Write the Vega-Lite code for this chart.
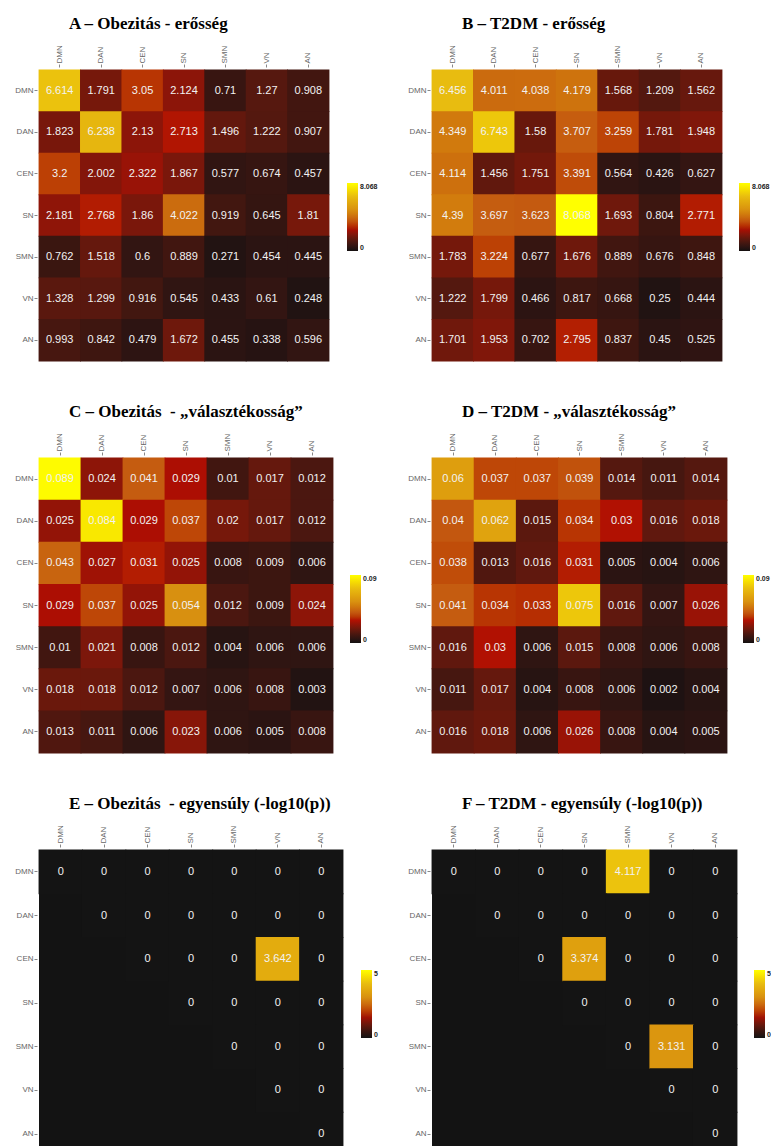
{
"$schema": "https://vega.github.io/schema/vega-lite/v6.json",
"background": "white",
"padding": {"left": 14, "top": 14, "right": 0, "bottom": 0},
"datasets": {
"A": [
{"r":"DMN","c":"DMN","v":6.614},{"r":"DMN","c":"DAN","v":1.791},{"r":"DMN","c":"CEN","v":3.05},{"r":"DMN","c":"SN","v":2.124},{"r":"DMN","c":"SMN","v":0.71},{"r":"DMN","c":"VN","v":1.27},{"r":"DMN","c":"AN","v":0.908},
{"r":"DAN","c":"DMN","v":1.823},{"r":"DAN","c":"DAN","v":6.238},{"r":"DAN","c":"CEN","v":2.13},{"r":"DAN","c":"SN","v":2.713},{"r":"DAN","c":"SMN","v":1.496},{"r":"DAN","c":"VN","v":1.222},{"r":"DAN","c":"AN","v":0.907},
{"r":"CEN","c":"DMN","v":3.2},{"r":"CEN","c":"DAN","v":2.002},{"r":"CEN","c":"CEN","v":2.322},{"r":"CEN","c":"SN","v":1.867},{"r":"CEN","c":"SMN","v":0.577},{"r":"CEN","c":"VN","v":0.674},{"r":"CEN","c":"AN","v":0.457},
{"r":"SN","c":"DMN","v":2.181},{"r":"SN","c":"DAN","v":2.768},{"r":"SN","c":"CEN","v":1.86},{"r":"SN","c":"SN","v":4.022},{"r":"SN","c":"SMN","v":0.919},{"r":"SN","c":"VN","v":0.645},{"r":"SN","c":"AN","v":1.81},
{"r":"SMN","c":"DMN","v":0.762},{"r":"SMN","c":"DAN","v":1.518},{"r":"SMN","c":"CEN","v":0.6},{"r":"SMN","c":"SN","v":0.889},{"r":"SMN","c":"SMN","v":0.271},{"r":"SMN","c":"VN","v":0.454},{"r":"SMN","c":"AN","v":0.445},
{"r":"VN","c":"DMN","v":1.328},{"r":"VN","c":"DAN","v":1.299},{"r":"VN","c":"CEN","v":0.916},{"r":"VN","c":"SN","v":0.545},{"r":"VN","c":"SMN","v":0.433},{"r":"VN","c":"VN","v":0.61},{"r":"VN","c":"AN","v":0.248},
{"r":"AN","c":"DMN","v":0.993},{"r":"AN","c":"DAN","v":0.842},{"r":"AN","c":"CEN","v":0.479},{"r":"AN","c":"SN","v":1.672},{"r":"AN","c":"SMN","v":0.455},{"r":"AN","c":"VN","v":0.338},{"r":"AN","c":"AN","v":0.596}
],
"B": [
{"r":"DMN","c":"DMN","v":6.456},{"r":"DMN","c":"DAN","v":4.011},{"r":"DMN","c":"CEN","v":4.038},{"r":"DMN","c":"SN","v":4.179},{"r":"DMN","c":"SMN","v":1.568},{"r":"DMN","c":"VN","v":1.209},{"r":"DMN","c":"AN","v":1.562},
{"r":"DAN","c":"DMN","v":4.349},{"r":"DAN","c":"DAN","v":6.743},{"r":"DAN","c":"CEN","v":1.58},{"r":"DAN","c":"SN","v":3.707},{"r":"DAN","c":"SMN","v":3.259},{"r":"DAN","c":"VN","v":1.781},{"r":"DAN","c":"AN","v":1.948},
{"r":"CEN","c":"DMN","v":4.114},{"r":"CEN","c":"DAN","v":1.456},{"r":"CEN","c":"CEN","v":1.751},{"r":"CEN","c":"SN","v":3.391},{"r":"CEN","c":"SMN","v":0.564},{"r":"CEN","c":"VN","v":0.426},{"r":"CEN","c":"AN","v":0.627},
{"r":"SN","c":"DMN","v":4.39},{"r":"SN","c":"DAN","v":3.697},{"r":"SN","c":"CEN","v":3.623},{"r":"SN","c":"SN","v":8.068},{"r":"SN","c":"SMN","v":1.693},{"r":"SN","c":"VN","v":0.804},{"r":"SN","c":"AN","v":2.771},
{"r":"SMN","c":"DMN","v":1.783},{"r":"SMN","c":"DAN","v":3.224},{"r":"SMN","c":"CEN","v":0.677},{"r":"SMN","c":"SN","v":1.676},{"r":"SMN","c":"SMN","v":0.889},{"r":"SMN","c":"VN","v":0.676},{"r":"SMN","c":"AN","v":0.848},
{"r":"VN","c":"DMN","v":1.222},{"r":"VN","c":"DAN","v":1.799},{"r":"VN","c":"CEN","v":0.466},{"r":"VN","c":"SN","v":0.817},{"r":"VN","c":"SMN","v":0.668},{"r":"VN","c":"VN","v":0.25},{"r":"VN","c":"AN","v":0.444},
{"r":"AN","c":"DMN","v":1.701},{"r":"AN","c":"DAN","v":1.953},{"r":"AN","c":"CEN","v":0.702},{"r":"AN","c":"SN","v":2.795},{"r":"AN","c":"SMN","v":0.837},{"r":"AN","c":"VN","v":0.45},{"r":"AN","c":"AN","v":0.525}
],
"C": [
{"r":"DMN","c":"DMN","v":0.089},{"r":"DMN","c":"DAN","v":0.024},{"r":"DMN","c":"CEN","v":0.041},{"r":"DMN","c":"SN","v":0.029},{"r":"DMN","c":"SMN","v":0.01},{"r":"DMN","c":"VN","v":0.017},{"r":"DMN","c":"AN","v":0.012},
{"r":"DAN","c":"DMN","v":0.025},{"r":"DAN","c":"DAN","v":0.084},{"r":"DAN","c":"CEN","v":0.029},{"r":"DAN","c":"SN","v":0.037},{"r":"DAN","c":"SMN","v":0.02},{"r":"DAN","c":"VN","v":0.017},{"r":"DAN","c":"AN","v":0.012},
{"r":"CEN","c":"DMN","v":0.043},{"r":"CEN","c":"DAN","v":0.027},{"r":"CEN","c":"CEN","v":0.031},{"r":"CEN","c":"SN","v":0.025},{"r":"CEN","c":"SMN","v":0.008},{"r":"CEN","c":"VN","v":0.009},{"r":"CEN","c":"AN","v":0.006},
{"r":"SN","c":"DMN","v":0.029},{"r":"SN","c":"DAN","v":0.037},{"r":"SN","c":"CEN","v":0.025},{"r":"SN","c":"SN","v":0.054},{"r":"SN","c":"SMN","v":0.012},{"r":"SN","c":"VN","v":0.009},{"r":"SN","c":"AN","v":0.024},
{"r":"SMN","c":"DMN","v":0.01},{"r":"SMN","c":"DAN","v":0.021},{"r":"SMN","c":"CEN","v":0.008},{"r":"SMN","c":"SN","v":0.012},{"r":"SMN","c":"SMN","v":0.004},{"r":"SMN","c":"VN","v":0.006},{"r":"SMN","c":"AN","v":0.006},
{"r":"VN","c":"DMN","v":0.018},{"r":"VN","c":"DAN","v":0.018},{"r":"VN","c":"CEN","v":0.012},{"r":"VN","c":"SN","v":0.007},{"r":"VN","c":"SMN","v":0.006},{"r":"VN","c":"VN","v":0.008},{"r":"VN","c":"AN","v":0.003},
{"r":"AN","c":"DMN","v":0.013},{"r":"AN","c":"DAN","v":0.011},{"r":"AN","c":"CEN","v":0.006},{"r":"AN","c":"SN","v":0.023},{"r":"AN","c":"SMN","v":0.006},{"r":"AN","c":"VN","v":0.005},{"r":"AN","c":"AN","v":0.008}
],
"D": [
{"r":"DMN","c":"DMN","v":0.06},{"r":"DMN","c":"DAN","v":0.037},{"r":"DMN","c":"CEN","v":0.037},{"r":"DMN","c":"SN","v":0.039},{"r":"DMN","c":"SMN","v":0.014},{"r":"DMN","c":"VN","v":0.011},{"r":"DMN","c":"AN","v":0.014},
{"r":"DAN","c":"DMN","v":0.04},{"r":"DAN","c":"DAN","v":0.062},{"r":"DAN","c":"CEN","v":0.015},{"r":"DAN","c":"SN","v":0.034},{"r":"DAN","c":"SMN","v":0.03},{"r":"DAN","c":"VN","v":0.016},{"r":"DAN","c":"AN","v":0.018},
{"r":"CEN","c":"DMN","v":0.038},{"r":"CEN","c":"DAN","v":0.013},{"r":"CEN","c":"CEN","v":0.016},{"r":"CEN","c":"SN","v":0.031},{"r":"CEN","c":"SMN","v":0.005},{"r":"CEN","c":"VN","v":0.004},{"r":"CEN","c":"AN","v":0.006},
{"r":"SN","c":"DMN","v":0.041},{"r":"SN","c":"DAN","v":0.034},{"r":"SN","c":"CEN","v":0.033},{"r":"SN","c":"SN","v":0.075},{"r":"SN","c":"SMN","v":0.016},{"r":"SN","c":"VN","v":0.007},{"r":"SN","c":"AN","v":0.026},
{"r":"SMN","c":"DMN","v":0.016},{"r":"SMN","c":"DAN","v":0.03},{"r":"SMN","c":"CEN","v":0.006},{"r":"SMN","c":"SN","v":0.015},{"r":"SMN","c":"SMN","v":0.008},{"r":"SMN","c":"VN","v":0.006},{"r":"SMN","c":"AN","v":0.008},
{"r":"VN","c":"DMN","v":0.011},{"r":"VN","c":"DAN","v":0.017},{"r":"VN","c":"CEN","v":0.004},{"r":"VN","c":"SN","v":0.008},{"r":"VN","c":"SMN","v":0.006},{"r":"VN","c":"VN","v":0.002},{"r":"VN","c":"AN","v":0.004},
{"r":"AN","c":"DMN","v":0.016},{"r":"AN","c":"DAN","v":0.018},{"r":"AN","c":"CEN","v":0.006},{"r":"AN","c":"SN","v":0.026},{"r":"AN","c":"SMN","v":0.008},{"r":"AN","c":"VN","v":0.004},{"r":"AN","c":"AN","v":0.005}
],
"E": [
{"r":"DMN","c":"DMN","v":0},{"r":"DMN","c":"DAN","v":0},{"r":"DMN","c":"CEN","v":0},{"r":"DMN","c":"SN","v":0},{"r":"DMN","c":"SMN","v":0},{"r":"DMN","c":"VN","v":0},{"r":"DMN","c":"AN","v":0},
{"r":"DAN","c":"DAN","v":0},{"r":"DAN","c":"CEN","v":0},{"r":"DAN","c":"SN","v":0},{"r":"DAN","c":"SMN","v":0},{"r":"DAN","c":"VN","v":0},{"r":"DAN","c":"AN","v":0},
{"r":"CEN","c":"CEN","v":0},{"r":"CEN","c":"SN","v":0},{"r":"CEN","c":"SMN","v":0},{"r":"CEN","c":"VN","v":3.642},{"r":"CEN","c":"AN","v":0},
{"r":"SN","c":"SN","v":0},{"r":"SN","c":"SMN","v":0},{"r":"SN","c":"VN","v":0},{"r":"SN","c":"AN","v":0},
{"r":"SMN","c":"SMN","v":0},{"r":"SMN","c":"VN","v":0},{"r":"SMN","c":"AN","v":0},
{"r":"VN","c":"VN","v":0},{"r":"VN","c":"AN","v":0},
{"r":"AN","c":"AN","v":0}
],
"F": [
{"r":"DMN","c":"DMN","v":0},{"r":"DMN","c":"DAN","v":0},{"r":"DMN","c":"CEN","v":0},{"r":"DMN","c":"SN","v":0},{"r":"DMN","c":"SMN","v":4.117},{"r":"DMN","c":"VN","v":0},{"r":"DMN","c":"AN","v":0},
{"r":"DAN","c":"DAN","v":0},{"r":"DAN","c":"CEN","v":0},{"r":"DAN","c":"SN","v":0},{"r":"DAN","c":"SMN","v":0},{"r":"DAN","c":"VN","v":0},{"r":"DAN","c":"AN","v":0},
{"r":"CEN","c":"CEN","v":0},{"r":"CEN","c":"SN","v":3.374},{"r":"CEN","c":"SMN","v":0},{"r":"CEN","c":"VN","v":0},{"r":"CEN","c":"AN","v":0},
{"r":"SN","c":"SN","v":0},{"r":"SN","c":"SMN","v":0},{"r":"SN","c":"VN","v":0},{"r":"SN","c":"AN","v":0},
{"r":"SMN","c":"SMN","v":0},{"r":"SMN","c":"VN","v":3.131},{"r":"SMN","c":"AN","v":0},
{"r":"VN","c":"VN","v":0},{"r":"VN","c":"AN","v":0},
{"r":"AN","c":"AN","v":0}
]
},
"concat": [
{
"title": {"text": "A – Obezitás - erősség"},
"data": {"name": "A"},
"width": 290, "height": 291,
"encoding": {
 "x": {"field": "c", "type": "nominal", "sort": ["DMN","DAN","CEN","SN","SMN","VN","AN"], "axis": {"orient": "top", "labelAngle": -90, "offset": 3}},
 "y": {"field": "r", "type": "nominal", "sort": ["DMN","DAN","CEN","SN","SMN","VN","AN"], "axis": {"offset": 2}}
},
"layer": [
 {"mark": {"type": "rect", "width": {"band": 1.02}, "height": {"band": 1.02}}, "encoding": {
   "color": {"field": "v", "type": "quantitative",
   "scale": {"domain": [0, 0.8068, 1.6136, 2.6624, 3.6306, 4.8408, 6.4544, 8.068], "range": ["#141010","#3c1610","#6a180c","#b00c02","#c45a10","#d89010","#e8bc10","#ffff00"]},
   "legend": {"orient": "none", "legendX": 308, "legendY": 113, "values": [0, 8.068], "format": ".4~g"}}}},
 {"mark": {"type": "text"}, "encoding": {"text": {"field": "v", "type": "nominal"}}}
]
},
{
"title": {"text": "B – T2DM - erősség"},
"data": {"name": "B"},
"width": 290, "height": 291,
"encoding": {
 "x": {"field": "c", "type": "nominal", "sort": ["DMN","DAN","CEN","SN","SMN","VN","AN"], "axis": {"orient": "top", "labelAngle": -90, "offset": 3}},
 "y": {"field": "r", "type": "nominal", "sort": ["DMN","DAN","CEN","SN","SMN","VN","AN"], "axis": {"offset": 2}}
},
"layer": [
 {"mark": {"type": "rect", "width": {"band": 1.02}, "height": {"band": 1.02}}, "encoding": {
   "color": {"field": "v", "type": "quantitative",
   "scale": {"domain": [0, 0.8068, 1.6136, 2.6624, 3.6306, 4.8408, 6.4544, 8.068], "range": ["#141010","#3c1610","#6a180c","#b00c02","#c45a10","#d89010","#e8bc10","#ffff00"]},
   "legend": {"orient": "none", "legendX": 307, "legendY": 113, "values": [0, 8.068], "format": ".4~g"}}}},
 {"mark": {"type": "text"}, "encoding": {"text": {"field": "v", "type": "nominal"}}}
]
},
{
"title": {"text": "C – Obezitás\u00a0 - „választékosság”"},
"data": {"name": "C"},
"width": 294, "height": 295,
"encoding": {
 "x": {"field": "c", "type": "nominal", "sort": ["DMN","DAN","CEN","SN","SMN","VN","AN"], "axis": {"orient": "top", "labelAngle": -90, "offset": 3}},
 "y": {"field": "r", "type": "nominal", "sort": ["DMN","DAN","CEN","SN","SMN","VN","AN"], "axis": {"offset": 2}}
},
"layer": [
 {"mark": {"type": "rect", "width": {"band": 1.02}, "height": {"band": 1.02}}, "encoding": {
   "color": {"field": "v", "type": "quantitative",
   "scale": {"domain": [0, 0.009, 0.018, 0.0297, 0.0405, 0.054, 0.072, 0.09], "range": ["#141010","#3c1610","#6a180c","#b00c02","#c45a10","#d89010","#e8bc10","#ffff00"]},
   "legend": {"orient": "none", "legendX": 311, "legendY": 117, "values": [0, 0.09], "format": ".4~g"}}}},
 {"mark": {"type": "text"}, "encoding": {"text": {"field": "v", "type": "nominal"}}}
]
},
{
"title": {"text": "D – T2DM - „választékosság”"},
"data": {"name": "D"},
"width": 295, "height": 295,
"encoding": {
 "x": {"field": "c", "type": "nominal", "sort": ["DMN","DAN","CEN","SN","SMN","VN","AN"], "axis": {"orient": "top", "labelAngle": -90, "offset": 3}},
 "y": {"field": "r", "type": "nominal", "sort": ["DMN","DAN","CEN","SN","SMN","VN","AN"], "axis": {"offset": 2}}
},
"layer": [
 {"mark": {"type": "rect", "width": {"band": 1.02}, "height": {"band": 1.02}}, "encoding": {
   "color": {"field": "v", "type": "quantitative",
   "scale": {"domain": [0, 0.009, 0.018, 0.0297, 0.0405, 0.054, 0.072, 0.09], "range": ["#141010","#3c1610","#6a180c","#b00c02","#c45a10","#d89010","#e8bc10","#ffff00"]},
   "legend": {"orient": "none", "legendX": 311, "legendY": 117, "values": [0, 0.09], "format": ".4~g"}}}},
 {"mark": {"type": "text"}, "encoding": {"text": {"field": "v", "type": "nominal"}}}
]
},
{
"title": {"text": "E – Obezitás\u00a0 - egyensúly (-log10(p))"},
"data": {"name": "E"},
"width": 304, "height": 306,
"view": {"fill": "#131313", "stroke": null},
"encoding": {
 "x": {"field": "c", "type": "nominal", "sort": ["DMN","DAN","CEN","SN","SMN","VN","AN"], "axis": {"orient": "top", "labelAngle": -90, "offset": 3}},
 "y": {"field": "r", "type": "nominal", "sort": ["DMN","DAN","CEN","SN","SMN","VN","AN"], "axis": {"offset": 2}}
},
"layer": [
 {"mark": {"type": "rect", "width": {"band": 1.02}, "height": {"band": 1.02}}, "encoding": {
   "color": {"field": "v", "type": "quantitative",
   "scale": {"domain": [0, 0.5, 1, 1.65, 2.25, 3, 4, 5], "range": ["#141414","#3c1610","#6a180c","#b00c02","#c45a10","#d89010","#e8bc10","#ffff00"]},
   "legend": {"orient": "none", "legendX": 322, "legendY": 120, "values": [0, 5], "format": ".4~g"}}}},
 {"mark": {"type": "text"}, "encoding": {"text": {"field": "v", "type": "nominal"}}}
]
},
{
"title": {"text": "F – T2DM - egyensúly (-log10(p))"},
"data": {"name": "F"},
"width": 305, "height": 306,
"view": {"fill": "#131313", "stroke": null},
"encoding": {
 "x": {"field": "c", "type": "nominal", "sort": ["DMN","DAN","CEN","SN","SMN","VN","AN"], "axis": {"orient": "top", "labelAngle": -90, "offset": 3}},
 "y": {"field": "r", "type": "nominal", "sort": ["DMN","DAN","CEN","SN","SMN","VN","AN"], "axis": {"offset": 2}}
},
"layer": [
 {"mark": {"type": "rect", "width": {"band": 1.02}, "height": {"band": 1.02}}, "encoding": {
   "color": {"field": "v", "type": "quantitative",
   "scale": {"domain": [0, 0.5, 1, 1.65, 2.25, 3, 4, 5], "range": ["#141414","#3c1610","#6a180c","#b00c02","#c45a10","#d89010","#e8bc10","#ffff00"]},
   "legend": {"orient": "none", "legendX": 322, "legendY": 120, "values": [0, 5], "format": ".4~g"}}}},
 {"mark": {"type": "text"}, "encoding": {"text": {"field": "v", "type": "nominal"}}}
]
}
],
"columns": 2,
"align": "each",
"bounds": "flush",
"spacing": {"row": 97, "column": 89},
"resolve": {"scale": {"color": "independent", "x": "independent", "y": "independent"}, "legend": {"color": "independent"}},
"config": {
 "view": {"stroke": null},
 "axis": {"domain": false, "grid": false, "title": null, "labelFont": "Liberation Sans", "labelFontSize": 8, "labelColor": "#666666", "tickColor": "#888888", "tickSize": 3, "labelPadding": 1},
 "legend": {"title": null, "direction": "vertical", "gradientLength": 68, "gradientThickness": 11, "gradientStrokeWidth": 0, "labelFont": "Liberation Sans", "labelFontSize": 7, "labelFontWeight": "bold", "labelColor": "#222222", "labelOffset": 4},
 "title": {"font": "Liberation Serif", "fontSize": 17, "fontWeight": "bold", "color": "#000000", "anchor": "start", "frame": "group", "dx": 30, "offset": 12},
 "text": {"font": "Liberation Sans", "fontSize": 11, "color": "#f2f2f2"}
}
}
